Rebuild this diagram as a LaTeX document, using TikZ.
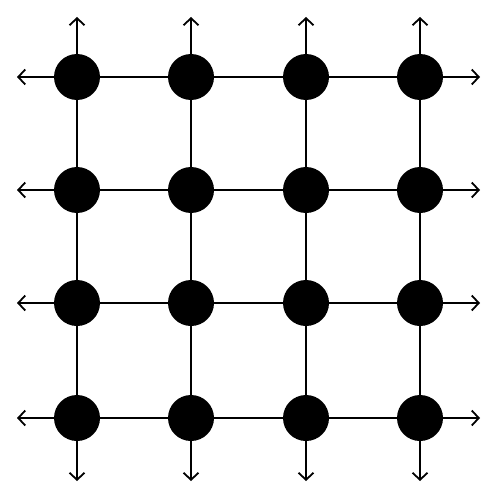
\documentclass[tikz,border=0pt]{standalone}
\usetikzlibrary{arrows.meta}
\begin{document}
\begin{tikzpicture}[x=1pt,y=-1pt,
  dot/.style={circle,fill=black,inner sep=0pt,minimum size=46pt},
  link/.style={line width=1.8pt},
  outarrow/.style={line width=1.8pt,-{Straight Barb[length=7pt,width=15pt,line width=1.8pt]}}]
\useasboundingbox (0,0) rectangle (498,500);
\foreach \i/\x in {1/77,2/191,3/306,4/420}{
  \foreach \j/\y in {1/77,2/190,3/303,4/418}{
    \coordinate (p\i\j) at (\x,\y);
  }
}
% free ends
\foreach \i/\x in {1/77,2/191,3/306,4/420}{
  \coordinate (t\i) at (\x,17);
  \coordinate (b\i) at (\x,481);
}
\foreach \j/\y in {1/77,2/190,3/303,4/418}{
  \coordinate (l\j) at (17,\y);
  \coordinate (r\j) at (480,\y);
}
% grid lines
\foreach \i in {1,2,3,4}{
  \draw[link] (p\i1) -- (p\i2) -- (p\i3) -- (p\i4);
  \draw[link] (p1\i) -- (p2\i) -- (p3\i) -- (p4\i);
  \draw[outarrow] (p\i1) -- (t\i);
  \draw[outarrow] (p\i4) -- (b\i);
  \draw[outarrow] (p1\i) -- (l\i);
  \draw[outarrow] (p4\i) -- (r\i);
}
% nodes
\foreach \i in {1,2,3,4}{
  \foreach \j in {1,2,3,4}{
    \node[dot] (n\i\j) at (p\i\j) {};
  }
}
\end{tikzpicture}
\end{document}
